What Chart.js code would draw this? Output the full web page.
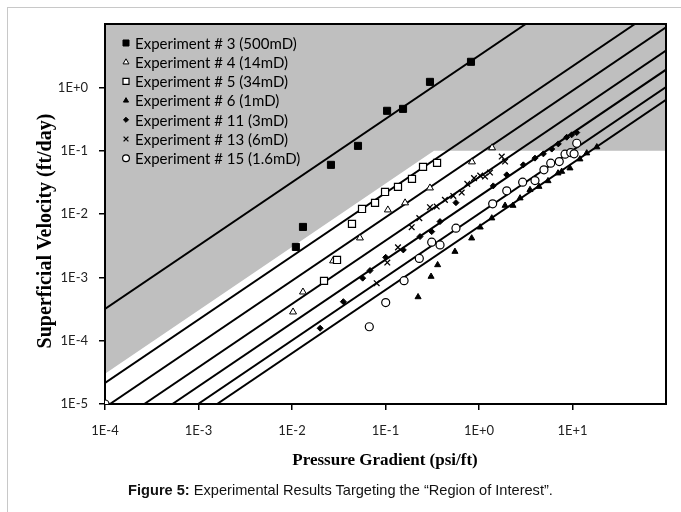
<!DOCTYPE html>
<html>
<head>
<meta charset="utf-8">
<script src="https://cdn.jsdelivr.net/npm/chart.js@4.4.0/dist/chart.umd.min.js"></script>
<style>
  html, body { margin: 0; padding: 0; background: #fff; }
  #wrap { position: relative; width: 681px; height: 512px; overflow: hidden; }
  #frame { position: absolute; left: 7px; top: 7px; width: 720px; height: 600px; border: 1px solid #c8c8c8; }
  #chart { position: absolute; left: 0; top: 0; }
  #caption { position: absolute; left: 0; top: 482px; width: 681px; text-align: center;
             font: 14.6px "Liberation Sans", Arial, sans-serif; color: #111; }
</style>
</head>
<body>
<div id="wrap">
  <div id="frame"></div>
  <canvas id="chart" width="681" height="512"></canvas>
  <div id="caption"><b>Figure 5:</b> Experimental Results Targeting the “Region of Interest”.</div>
</div>
<script>
// ---- data (x = psi/ft, y = ft/day) ----
const seriesNames = [
  'Experiment # 3 (500mD)', 'Experiment # 4 (14mD)', 'Experiment # 5 (34mD)',
  'Experiment # 6 (1mD)', 'Experiment # 11 (3mD)', 'Experiment # 13 (6mD)',
  'Experiment # 15 (1.6mD)'
];

const exp3X = [0.0110, 0.0131, 0.0261, 0.0508, 0.104, 0.154, 0.299, 0.821];
const exp3Y = [0.00302, 0.00625, 0.0597, 0.119, 0.426, 0.457, 1.22, 2.53];

const exp4X = [0.01026, 0.0131, 0.0275, 0.0533, 0.106, 0.162, 0.299, 0.841, 1.38];
const exp4Y = [2.84e-4, 5.87e-4, 1.82e-3, 4.19e-3, 0.0116, 0.0150, 0.0258, 0.0665, 0.111];

const exp5X = [0.0220, 0.0303, 0.0438, 0.0561, 0.0773, 0.0989, 0.136, 0.192, 0.252, 0.356];
const exp5Y = [8.8e-4, 1.88e-3, 6.98e-3, 0.0120, 0.0150, 0.0223, 0.0268, 0.0359, 0.0555, 0.0641];

const exp6X = [0.223, 0.307, 0.361, 0.553, 0.835, 1.03, 1.37, 1.90, 2.31, 2.75,
               3.51, 4.38, 5.47, 7.0, 7.66, 9.4, 12.0, 14.2, 18.2];
const exp6Y = [4.9e-4, 1.03e-3, 1.57e-3, 2.55e-3, 4.15e-3, 6.18e-3, 8.6e-3, 0.0136, 0.0136, 0.0178,
               0.0241, 0.0271, 0.0333, 0.0441, 0.0468, 0.0530, 0.0735, 0.0914, 0.114];

const exp11X = [0.0200, 0.0354, 0.0570, 0.0683, 0.1005, 0.155, 0.234, 0.312, 0.383, 0.567,
                1.42, 1.98, 2.98, 3.97, 4.88, 6.0, 7.05, 8.67, 9.8, 11.1];
const exp11Y = [1.57e-4, 4.13e-4, 9.7e-4, 1.28e-3, 2.07e-3, 2.71e-3, 4.40e-3, 5.27e-3, 7.59e-3, 0.0151,
                0.0278, 0.0415, 0.0597, 0.0762, 0.0890, 0.106, 0.128, 0.163, 0.178, 0.193];

const exp13X = [0.0805, 0.1045, 0.136, 0.1906, 0.230, 0.299, 0.353, 0.432, 0.531, 0.653,
                0.750, 0.885, 1.03, 1.16, 1.31, 1.75, 1.90];
const exp13Y = [8.07e-4, 1.71e-3, 2.97e-3, 6.18e-3, 8.6e-3, 0.0128, 0.0131, 0.0167, 0.0193, 0.0218,
                0.0299, 0.0368, 0.0404, 0.039, 0.0451, 0.0807, 0.0673];

const exp15X = [1e-4, 0.0671, 0.1005, 0.158, 0.230, 0.312, 0.383, 0.567, 1.40, 1.98,
                2.93, 3.97, 4.95, 5.85, 7.22, 8.32, 9.57, 10.4, 11.1];
const exp15Y = [1e-5, 1.66e-4, 4.0e-4, 8.87e-4, 1.99e-3, 3.59e-3, 3.25e-3, 5.97e-3, 0.0145, 0.0232,
                0.0318, 0.0337, 0.0498, 0.0635, 0.0673, 0.0881, 0.0933, 0.0891, 0.131];

// Darcy lines (500, 34, 14, 6, 3, 1.6, 1 mD): start and end where they leave the plot
const lineX1 = [1e-4, 1e-4, 1.13e-4, 2.63e-4, 5.26e-4, 9.9e-4, 1.58e-3];
const lineY1 = [3.16e-4, 2.15e-5, 1e-5, 1e-5, 1e-5, 1e-5, 1e-5];
const lineX2 = [3.16, 46.5, 100, 100, 100, 100, 100];
const lineY2 = [10, 10, 8.86, 3.8, 1.9, 1.01, 0.633];

// shaded "region of interest" outline
const shadeX = [1e-4, 0.33, 100];
const shadeY = [3.0e-5, 0.1, 0.1];

const xTicks = [1e-4, 1e-3, 1e-2, 1e-1, 1e0, 1e1];
const xTickLabels = ['1E-4', '1E-3', '1E-2', '1E-1', '1E+0', '1E+1'];
const yTicks = [1e-5, 1e-4, 1e-3, 1e-2, 1e-1, 1e0];
const yTickLabels = ['1E-5', '1E-4', '1E-3', '1E-2', '1E-1', '1E+0'];

const zip = (xs, ys) => xs.map((x, i) => ({ x, y: ys[i] }));

// marker looks, one per experiment (legend uses the same)
const markers = [
  { pointStyle: 'rect', radius: 5, fill: '#000', border: '#000', bw: 1 },
  { pointStyle: 'triangle', radius: 4, fill: '#fff', border: '#000', bw: 1 },
  { pointStyle: 'rect', radius: 5, fill: '#fff', border: '#000', bw: 1.2 },
  { pointStyle: 'triangle', radius: 3.5, fill: '#000', border: '#000', bw: 1 },
  { pointStyle: 'rectRot', radius: 3, fill: '#000', border: '#000', bw: 1 },
  { pointStyle: 'crossRot', radius: 4, fill: '#000', border: '#000', bw: 1.3 },
  { pointStyle: 'circle', radius: 4, fill: '#fff', border: '#000', bw: 1.2 }
];
const pointSets = [
  zip(exp3X, exp3Y), zip(exp4X, exp4Y), zip(exp5X, exp5Y), zip(exp6X, exp6Y),
  zip(exp11X, exp11Y), zip(exp13X, exp13Y), zip(exp15X, exp15Y)
];

const datasets = [];
datasets.push({
  label: 'shade',
  data: zip(shadeX, shadeY),
  showLine: true,
  fill: 'end',
  backgroundColor: '#bfbfbf',
  borderWidth: 0,
  pointRadius: 0,
  order: 30
});
lineX1.forEach((x1, i) => {
  datasets.push({
    label: 'line' + i,
    data: [{ x: x1, y: lineY1[i] }, { x: lineX2[i], y: lineY2[i] }],
    showLine: true,
    borderColor: '#000',
    borderWidth: 2,
    pointRadius: 0,
    order: 20
  });
});
pointSets.forEach((pts, i) => {
  const m = markers[i];
  datasets.push({
    label: seriesNames[i],
    data: pts,
    pointStyle: m.pointStyle,
    pointRadius: m.radius,
    pointBackgroundColor: m.fill,
    pointBorderColor: m.border,
    pointBorderWidth: m.bw,
    showLine: false,
    order: 10 - i
  });
});

const PLOT = { left: 105, top: 24, right: 666, bottom: 404 };

// frame around the plot, drawn right after the grey shading
const frameAfterShade = {
  id: 'frameAfterShade',
  afterDatasetDraw(chart, args) {
    if (args.index !== 0) return;
    const a = chart.chartArea, ctx = chart.ctx;
    ctx.save();
    ctx.strokeStyle = '#000';
    ctx.lineWidth = 2;
    ctx.strokeRect(a.left, a.top, a.right - a.left, a.bottom - a.top);
    ctx.restore();
  }
};

// legend inside the plot + axis titles
const insideLegend = {
  id: 'insideLegend',
  afterDraw(chart) {
    const ctx = chart.ctx;
    ctx.save();
    ctx.font = '15px Lato, "Open Sans", sans-serif';
    ctx.textBaseline = 'middle';
    ctx.fillStyle = '#000';
    seriesNames.forEach((name, i) => {
      const y = 43 + i * 19.2;
      const m = markers[i];
      ctx.fillStyle = m.fill;
      ctx.strokeStyle = m.border;
      ctx.lineWidth = m.bw;
      Chart.helpers.drawPoint(ctx, { pointStyle: m.pointStyle, radius: m.radius * 0.85, rotation: 0, borderWidth: m.bw }, 126, y);
      ctx.fillStyle = '#000';
      ctx.fillText(name, 135, y + 1);
    });

    ctx.textAlign = 'center';
    ctx.font = 'bold 17px "Liberation Serif", "Times New Roman", serif';
    ctx.fillText('Pressure Gradient (psi/ft)', 385, 461);
    ctx.font = 'bold 20px "Liberation Serif", "Times New Roman", serif';
    ctx.translate(46, 231);
    ctx.rotate(-Math.PI / 2);
    ctx.fillText('Superficial Velocity (ft/day)', 0, 0);
    ctx.restore();
  }
};

new Chart(document.getElementById('chart'), {
  type: 'scatter',
  data: { datasets },
  options: {
    responsive: false,
    animation: false,
    layout: { padding: { left: 0, top: PLOT.top, right: 681 - PLOT.right, bottom: 0 } },
    plugins: { legend: { display: false }, tooltip: { enabled: false } },
    scales: {
      x: {
        type: 'logarithmic',
        min: 1e-4,
        max: 1e2,
        afterBuildTicks: (s) => { s.ticks = xTicks.map(v => ({ value: v })); },
        afterFit: (s) => { s.height = 512 - PLOT.bottom; },
        ticks: {
          autoSkip: false,
          maxRotation: 0,
          padding: 13,
          color: '#222',
          font: { family: 'Lato, "Open Sans", sans-serif', size: 13 },
          callback: (v, i) => xTickLabels[i]
        },
        grid: { drawOnChartArea: false, tickLength: 6, color: '#000', lineWidth: 1.5 },
        border: { color: '#000', width: 2 }
      },
      y: {
        type: 'logarithmic',
        min: 1e-5,
        max: 1e1,
        afterBuildTicks: (s) => { s.ticks = yTicks.map(v => ({ value: v })); },
        afterFit: (s) => { s.width = PLOT.left; },
        ticks: {
          autoSkip: false,
          padding: 11,
          color: '#222',
          font: { family: 'Lato, "Open Sans", sans-serif', size: 13 },
          callback: (v, i) => yTickLabels[i]
        },
        grid: { drawOnChartArea: false, tickLength: 6, color: '#000', lineWidth: 1.5 },
        border: { color: '#000', width: 2 }
      }
    }
  },
  plugins: [frameAfterShade, insideLegend]
});
</script>
</body>
</html>
